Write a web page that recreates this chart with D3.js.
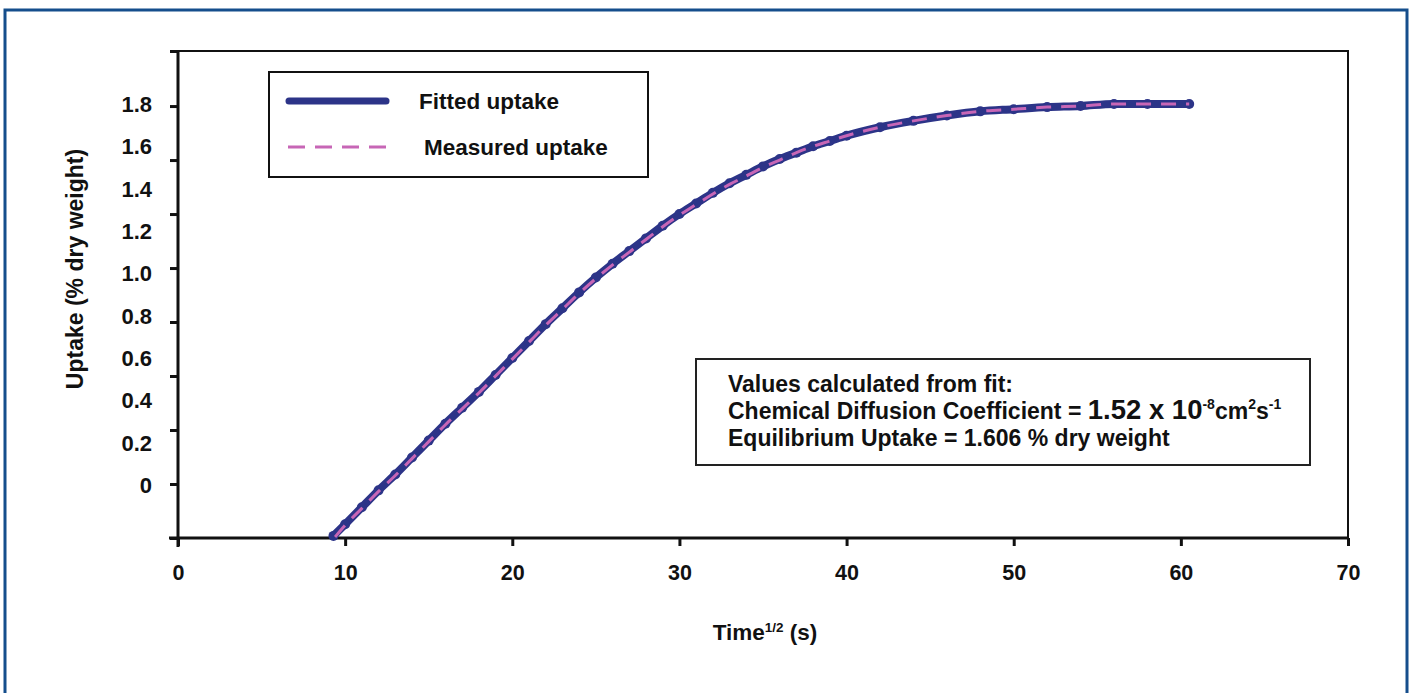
<!DOCTYPE html>
<html>
<head>
<meta charset="utf-8">
<script src="https://cdn.jsdelivr.net/npm/d3@7"></script>
<style>
  html, body { margin: 0; padding: 0; background: #fff; }
  svg text { font-family: "Liberation Sans", Arial, Helvetica, sans-serif; font-weight: bold; fill: #111; }
</style>
</head>
<body>
<div id="chart"></div>
<script>
// Data
const timeFit   = [9.3, 10, 11, 12, 13, 14, 15, 16, 17, 18, 19, 20, 21, 22, 23, 24, 25, 26, 27, 28, 29, 30,
                   31, 32, 33, 34, 35, 36, 37, 38, 39, 40, 42, 44, 46, 48, 50, 52, 54, 56, 58, 60.5];
const uptakeFit = [-0.24, -0.185, -0.105, -0.025, 0.05, 0.13, 0.21, 0.29, 0.365, 0.44, 0.52, 0.60, 0.68, 0.76,
                   0.835, 0.91, 0.98, 1.045, 1.105, 1.165, 1.225, 1.28, 1.33, 1.38, 1.425, 1.465, 1.505, 1.54,
                   1.57, 1.60, 1.625, 1.65, 1.69, 1.72, 1.745, 1.765, 1.775, 1.785, 1.79, 1.80, 1.80, 1.80];

const timeMeas   = [9.4, 10, 11, 12, 13, 14, 15, 16, 17, 18, 19, 20, 21, 22, 23, 24, 25, 26, 27, 28, 29, 30,
                    31, 32, 33, 34, 35, 36, 37, 38, 39, 40, 42, 44, 46, 48, 50, 52, 54, 56, 58, 60.5];
const uptakeMeas = [-0.245, -0.19, -0.11, -0.03, 0.045, 0.125, 0.205, 0.285, 0.36, 0.435, 0.515, 0.595, 0.675,
                    0.755, 0.83, 0.905, 0.975, 1.04, 1.10, 1.16, 1.22, 1.275, 1.325, 1.375, 1.42, 1.46, 1.50,
                    1.535, 1.57, 1.60, 1.625, 1.65, 1.69, 1.72, 1.745, 1.765, 1.775, 1.785, 1.79, 1.80, 1.80, 1.80];

// axis ticks (the original labels do not sit on the tick marks)
const xTicks = [0, 10, 20, 30, 40, 50, 60, 70];
const yTickMarks = [-0.25, 0.005, 0.26, 0.515, 0.77, 1.025, 1.28, 1.535, 1.79, 2.05];
const yLabelValues = [0, 0.2, 0.4, 0.6, 0.8, 1.0, 1.2, 1.4, 1.6, 1.8];
const yLabelText = ["0", "0.2", "0.4", "0.6", "0.8", "1.0", "1.2", "1.4", "1.6", "1.8"];

const seriesNames = ["Fitted uptake", "Measured uptake"];
const fitLines = [
    { label: "Values calculated from fit:" },
    { label: "Chemical Diffusion Coefficient = ", big: "1.52 x 10", sup1: "-8", mid: "cm", sup2: "2", end: "s", sup3: "-1" },
    { label: "Equilibrium Uptake = 1.606 % dry weight" }
];

const W = 1412, H = 693;
const navy = "#2c3488", pink = "#c766b6";

const svg = d3.select("#chart").append("svg")
    .attr("width", W)
    .attr("height", H);

// outer blue frame
svg.append("rect")
    .attr("x", 5).attr("y", 10)
    .attr("width", 1402).attr("height", 720)
    .attr("fill", "none")
    .attr("stroke", "#154e8c")
    .attr("stroke-width", 3);

const x = d3.scaleLinear().domain([0, 70]).range([178, 1348]);
const y = d3.scaleLinear().domain([-0.25, 2.05]).range([538, 51]);

// plot frame (top + right)
svg.append("path")
    .attr("d", `M${x(0)},${y(2.05)}H${x(70)}V${y(-0.25)}`)
    .attr("fill", "none")
    .attr("stroke", "#111")
    .attr("stroke-width", 2);

// x axis
const xAxis = svg.append("g")
    .attr("transform", `translate(0,${y(-0.25)})`)
    .call(d3.axisBottom(x).tickValues(xTicks).tickSizeInner(8).tickSizeOuter(0).tickPadding(0));
xAxis.select(".domain").attr("stroke", "#111").attr("stroke-width", 3)
    .attr("d", `M${x(0) - 9},0H${x(70)}`);
xAxis.selectAll(".tick line").attr("stroke", "#111").attr("stroke-width", 3);
xAxis.selectAll(".tick text")
    .attr("y", 42).attr("dy", 0)
    .style("font-size", "21.5px");

// y axis (marks only)
const yAxis = svg.append("g")
    .attr("transform", `translate(${x(0)},0)`)
    .call(d3.axisLeft(y).tickValues(yTickMarks).tickFormat("").tickSizeInner(8).tickSizeOuter(0));
yAxis.select(".domain").attr("stroke", "#111").attr("stroke-width", 3)
    .attr("d", `M0,${y(2.05)}V${y(-0.25) + 9}`);
yAxis.selectAll(".tick line").attr("stroke", "#111").attr("stroke-width", 3);

// y labels as in the original
svg.append("g").selectAll("text")
    .data(yLabelValues)
    .join("text")
    .attr("x", 152)
    .attr("y", d => y(d))
    .attr("dy", "0.36em")
    .attr("text-anchor", "end")
    .style("font-size", "22px")
    .text((d, i) => yLabelText[i]);

// axis titles
svg.append("text")
    .attr("transform", "translate(83,269) rotate(-90)")
    .attr("text-anchor", "middle")
    .style("font-size", "23px")
    .text("Uptake (% dry weight)");

const xt = svg.append("text")
    .attr("x", 765).attr("y", 640)
    .attr("text-anchor", "middle")
    .style("font-size", "22.5px");
xt.append("tspan").text("Time");
xt.append("tspan").attr("dy", -8).style("font-size", "13.5px").text("1/2");
xt.append("tspan").attr("dy", 8).text(" (s)");

// curves
const fitData = timeFit.map((t, i) => [t, uptakeFit[i]]);
const measData = timeMeas.map((t, i) => [t, uptakeMeas[i]]);
const line = d3.line().x(d => x(d[0])).y(d => y(d[1])).curve(d3.curveMonotoneX);

svg.append("path")
    .datum(fitData)
    .attr("d", line)
    .attr("fill", "none")
    .attr("stroke", navy)
    .attr("stroke-width", 8)
    .attr("stroke-linecap", "round")
    .attr("stroke-linejoin", "round");

svg.append("g").selectAll("circle")
    .data(fitData)
    .join("circle")
    .attr("cx", d => x(d[0]))
    .attr("cy", d => y(d[1]))
    .attr("r", 5)
    .attr("fill", navy);

svg.append("path")
    .datum(measData)
    .attr("d", line)
    .attr("fill", "none")
    .attr("stroke", pink)
    .attr("stroke-width", 3)
    .attr("stroke-dasharray", "15,10");

// legend
const legend = svg.append("g");
legend.append("rect")
    .attr("x", 269).attr("y", 72)
    .attr("width", 379).attr("height", 105)
    .attr("fill", "#fff")
    .attr("stroke", "#111")
    .attr("stroke-width", 2);
legend.append("line")
    .attr("x1", 289).attr("x2", 386).attr("y1", 101).attr("y2", 101)
    .attr("stroke", navy).attr("stroke-width", 7).attr("stroke-linecap", "round");
legend.append("line")
    .attr("x1", 288).attr("x2", 387).attr("y1", 147).attr("y2", 147)
    .attr("stroke", pink).attr("stroke-width", 3).attr("stroke-dasharray", "17,10");
legend.append("text").attr("x", 419).attr("y", 109).style("font-size", "22.5px").text(seriesNames[0]);
legend.append("text").attr("x", 424).attr("y", 155).style("font-size", "22.5px").text(seriesNames[1]);

// fit values box
const box = svg.append("g");
box.append("rect")
    .attr("x", 696).attr("y", 359)
    .attr("width", 614).attr("height", 106)
    .attr("fill", "#fff")
    .attr("stroke", "#222")
    .attr("stroke-width", 2);

const baselines = [392, 419, 446];
fitLines.forEach((l, i) => {
    const t = box.append("text")
        .attr("x", 728).attr("y", baselines[i])
        .style("font-size", "23px");
    t.append("tspan").text(l.label);
    if (l.big) {
        t.append("tspan").style("font-size", "27.5px").text(l.big);
        t.append("tspan").attr("dy", -10).style("font-size", "14px").text(l.sup1);
        t.append("tspan").attr("dy", 10).text(l.mid);
        t.append("tspan").attr("dy", -10).style("font-size", "14px").text(l.sup2);
        t.append("tspan").attr("dy", 10).text(l.end);
        t.append("tspan").attr("dy", -10).style("font-size", "14px").text(l.sup3);
    }
});
</script>
</body>
</html>
